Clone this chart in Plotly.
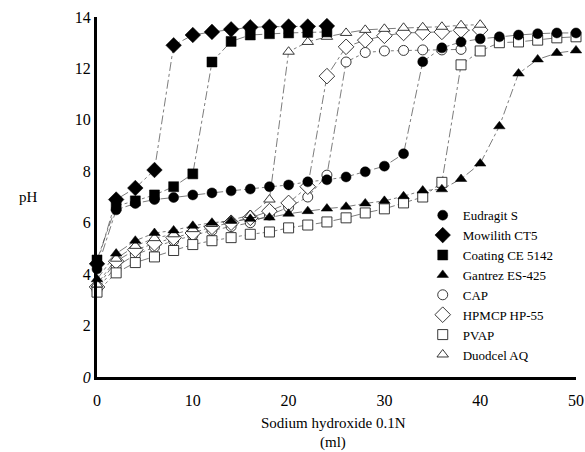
import plotly.graph_objects as go

x_full = list(range(0, 51, 2))

eudragit_x = x_full
eudragit_y = [4.2, 6.5, 6.75, 6.9, 6.98, 7.08, 7.16, 7.24, 7.31, 7.4, 7.47, 7.59, 7.67,
              7.78, 7.98, 8.2, 8.68, 12.26, 12.8, 13.03, 13.15, 13.23, 13.3, 13.35, 13.38, 13.38]

mowilith_x = list(range(0, 25, 2))
mowilith_y = [4.4, 6.9, 7.35, 8.05, 12.9, 13.3, 13.42, 13.52, 13.6, 13.62, 13.63, 13.63, 13.65]

coating_x = list(range(0, 25, 2))
coating_y = [4.55, 6.65, 6.85, 7.08, 7.4, 7.9, 12.25, 13.05, 13.3, 13.35, 13.38, 13.4, 13.42]

gantrez_x = x_full
gantrez_y = [3.8, 4.8, 5.3, 5.6, 5.7, 5.88, 6.0, 6.07, 6.15, 6.2, 6.35, 6.45, 6.55,
             6.62, 6.75, 6.85, 7.03, 7.25, 7.3, 7.7, 8.3, 9.75, 11.8, 12.35, 12.6, 12.7]

cap_x = list(range(0, 39, 2))
cap_y = [3.4, 4.3, 4.75, 5.05, 5.3, 5.5, 5.7, 5.85, 6.0, 6.3, 6.6, 7.0, 7.85,
         12.25, 12.62, 12.68, 12.7, 12.72, 12.72, 12.74]

hpmcp_x = list(range(0, 41, 2))
hpmcp_y = [3.5, 4.5, 4.95, 5.2, 5.42, 5.6, 5.84, 6.0, 6.19, 6.45, 6.77, 7.4, 11.7,
           12.84, 13.1, 13.27, 13.38, 13.4, 13.42, 13.48, 13.5]

pvap_x = x_full
pvap_y = [3.3, 4.05, 4.45, 4.67, 4.92, 5.15, 5.3, 5.42, 5.55, 5.64, 5.8, 5.91, 6.03,
          6.19, 6.38, 6.54, 6.77, 7.0, 7.57, 12.14, 12.68, 13.0, 13.03, 13.1, 13.19, 13.23]

duodcel_x = list(range(0, 41, 2))
duodcel_y = [3.6, 4.6, 5.1, 5.4, 5.55, 5.75, 5.95, 6.1, 6.3, 6.9, 12.65, 13.03, 13.23,
             13.38, 13.5, 13.54, 13.58, 13.6, 13.62, 13.68, 13.7]

series = [
    ("Eudragit S", eudragit_x, eudragit_y, "circle", True),
    ("Mowilith CT5", mowilith_x, mowilith_y, "diamond", True),
    ("Coating CE 5142", coating_x, coating_y, "square", True),
    ("Gantrez ES-425", gantrez_x, gantrez_y, "triangle-up", True),
    ("CAP", cap_x, cap_y, "circle", False),
    ("HPMCP HP-55", hpmcp_x, hpmcp_y, "diamond", False),
    ("PVAP", pvap_x, pvap_y, "square", False),
    ("Duodcel AQ", duodcel_x, duodcel_y, "triangle-up", False),
]

FONT = "Liberation Serif"
fig = go.Figure()

for name, xs, ys, sym, filled in series:
    fig.add_trace(go.Scatter(x=xs, y=ys, mode="lines", showlegend=False,
                             line=dict(color="#444444", width=0.7, dash="dashdot"),
                             hoverinfo="skip", cliponaxis=False))

order = [s for s in series if not s[4]] + [s for s in series if s[4]]
rank = {s[0]: i for i, s in enumerate(series)}
for name, xs, ys, sym, filled in order:
    size = 10 if sym != "diamond" else 12
    if filled:
        marker = dict(symbol=sym, size=size, color="black", line=dict(color="black", width=0.5))
    else:
        marker = dict(symbol=sym, size=size, color="white", line=dict(color="#222222", width=0.9))
    fig.add_trace(go.Scatter(x=xs, y=ys, mode="markers", name=name, marker=marker,
                             legendrank=rank[name] + 1, cliponaxis=False))

# plot area in page pixels: x 97..576, y 17..377
PW, PH = 479, 360
fig.update_layout(
    width=585, height=452,
    margin=dict(l=97, r=9, t=17, b=75),
    paper_bgcolor="white", plot_bgcolor="white",
    font=dict(family=FONT, size=16, color="black"),
    showlegend=True,
    legend=dict(x=0.680, y=0.491, xanchor="left", yanchor="top",
                font=dict(family=FONT, size=13, color="black"),
                bgcolor="rgba(0,0,0,0)", tracegroupgap=0, itemsizing="trace"),
    annotations=[
        dict(text="pH", x=(28 - 97) / PW, y=(377 - 197) / PH, xref="paper", yref="paper",
             showarrow=False, xanchor="center", yanchor="middle",
             font=dict(family=FONT, size=15)),
        dict(text="Sodium hydroxide 0.1N", xref="paper", yref="paper", showarrow=False,
             x=(333 - 97) / PW, y=-(423 - 377) / PH, xanchor="center", yanchor="middle",
             font=dict(family=FONT, size=15)),
        dict(text="(ml)", xref="paper", yref="paper", showarrow=False,
             x=(333 - 97) / PW, y=-(442 - 377) / PH, xanchor="center", yanchor="middle",
             font=dict(family=FONT, size=15)),
    ],
)

fig.update_xaxes(range=[0, 50], tickvals=[0, 10, 20, 30, 40, 50], showgrid=False, zeroline=False,
                 showline=True, linecolor="black", linewidth=3, ticks="", ticklabelstandoff=7,
                 tickfont=dict(size=16), automargin=False)
fig.update_yaxes(range=[0, 14], tickvals=[0, 2, 4, 6, 8, 10, 12, 14],
                 ticktext=["<i>0</i>", "2", "4", "6", "8", "10", "12", "14"],
                 showgrid=False, zeroline=False, automargin=False,
                 showline=True, linecolor="black", linewidth=3, ticks="", tickfont=dict(size=16))

fig.write_html("out.html", config={"displayModeBar": False},
               post_script="document.body.style.margin='0';")
